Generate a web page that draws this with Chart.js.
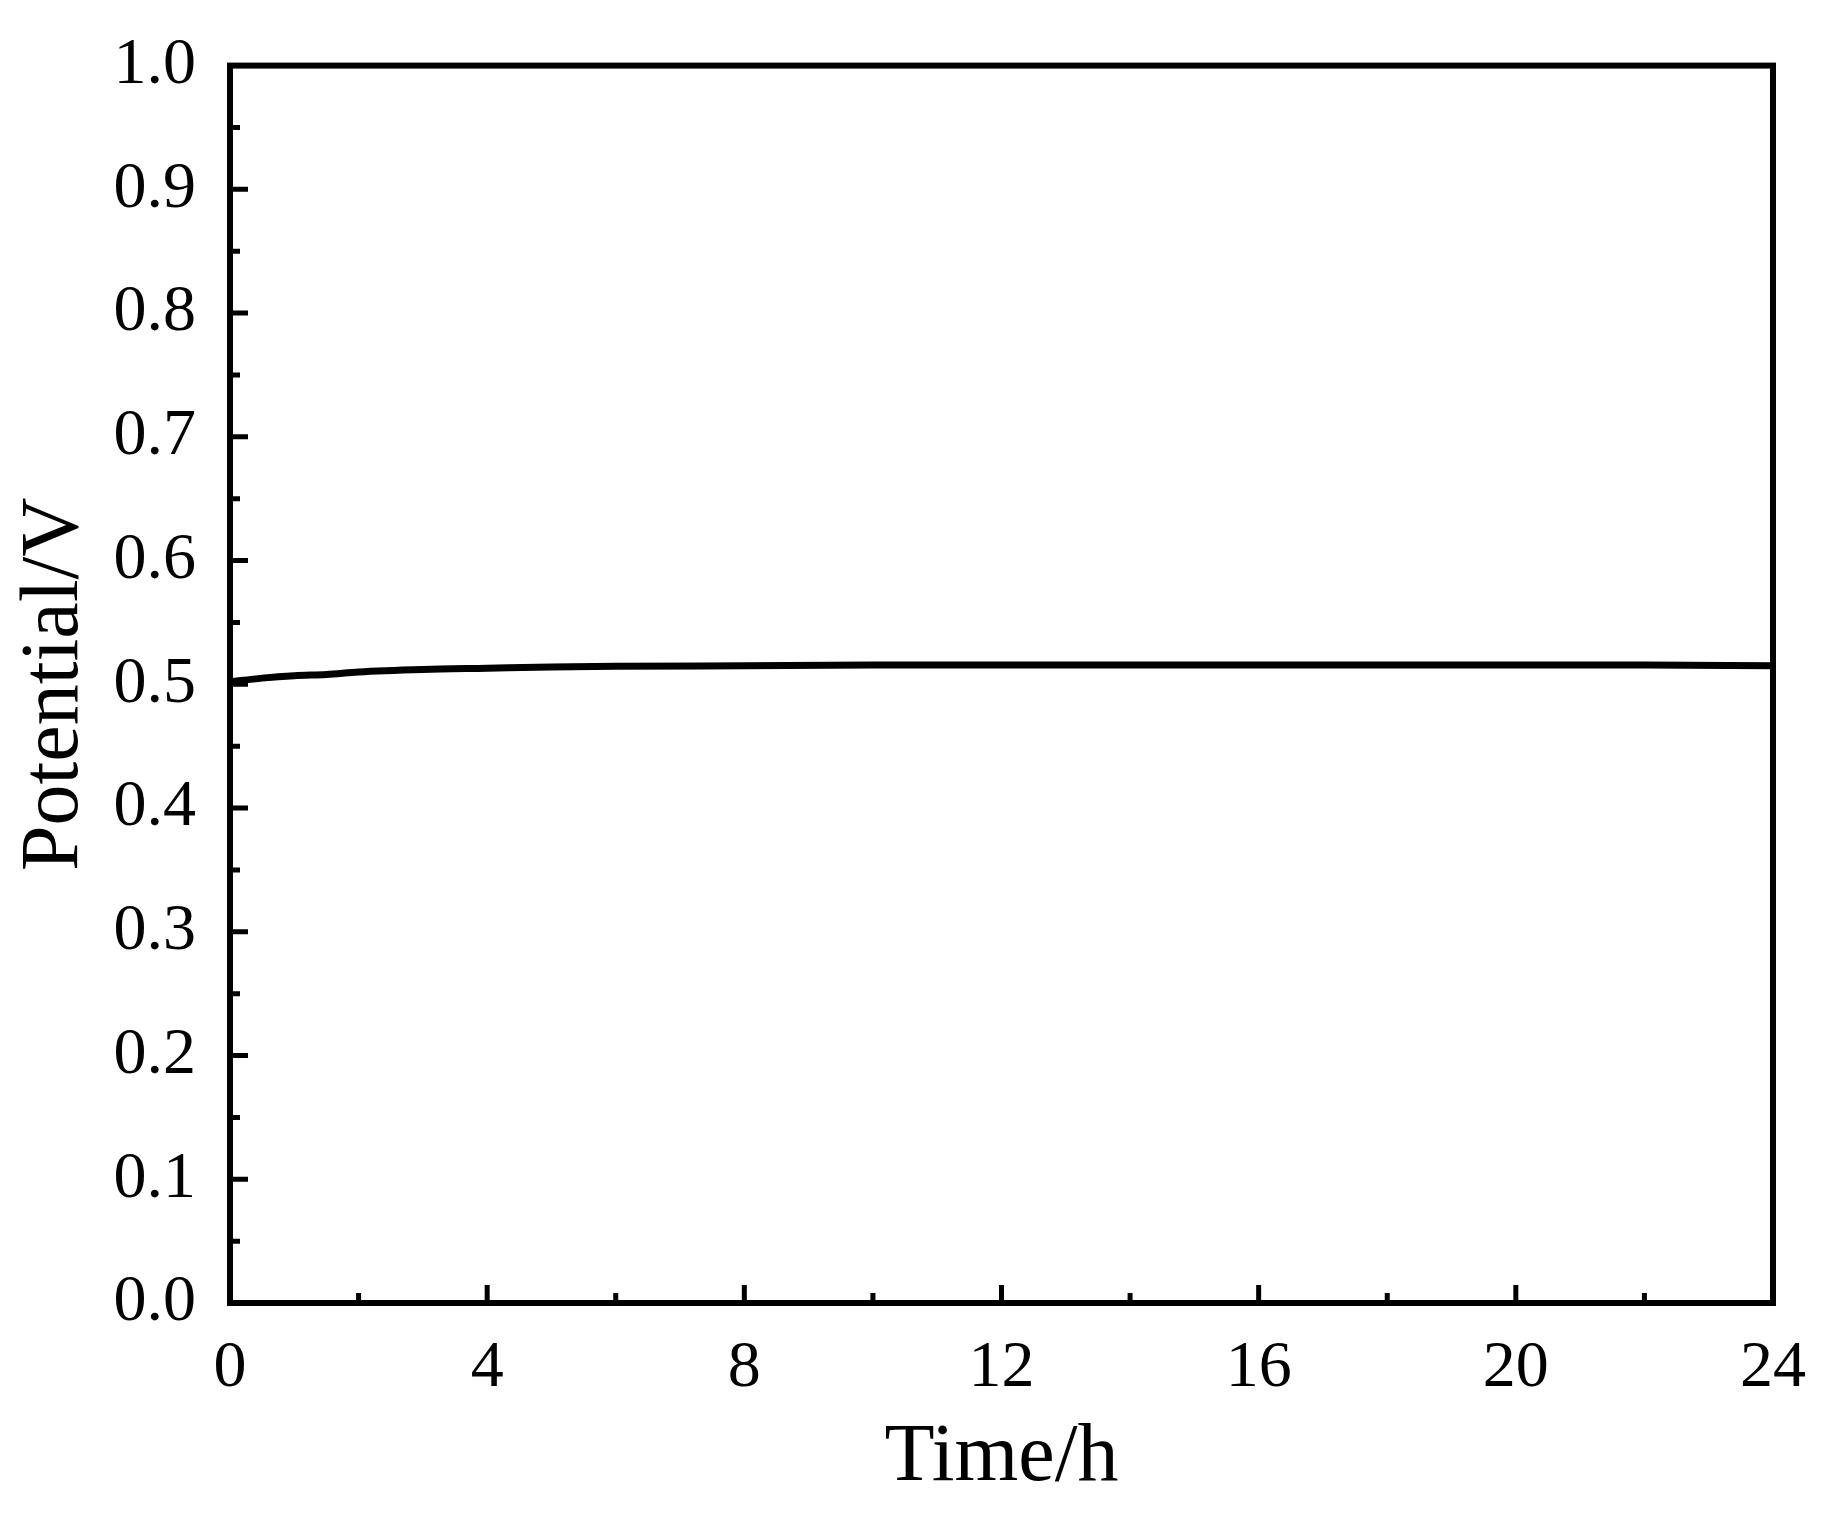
<!DOCTYPE html>
<html><head><meta charset="utf-8">
<script src="https://cdn.jsdelivr.net/npm/chart.js@4"></script>
<style>html,body{margin:0;background:#fff}#w{width:1828px;height:1525px}</style>
</head><body><div id="w"><canvas id="c"></canvas></div>
<script>
const timeH = [0,0.5,1,1.5,2,3,4,5,6,8,10,12,14,16,18,20,22,24];
const potentialV = [0.502,0.505,0.507,0.508,0.510,0.512,0.513,0.514,0.5145,0.515,0.5155,0.5155,0.5155,0.5155,0.5155,0.5155,0.5155,0.515];
const xTicks = [0,4,8,12,16,20,24];
const yTicks = [0,0.1,0.2,0.3,0.4,0.5,0.6,0.7,0.8,0.9,1.0];

const frame = {
  id:'frame',
  afterDraw(ch){
    const {ctx, chartArea:a, scales:{x,y}} = ch;
    ctx.save(); ctx.strokeStyle='#000'; ctx.lineWidth=6;
    ctx.strokeRect(a.left,a.top,a.right-a.left,a.bottom-a.top);
    ctx.lineWidth=5; ctx.beginPath();
    for(let v=0; v<=24; v+=2){const p=x.getPixelForValue(v); const L=v%4===0?18:10; ctx.moveTo(p,a.bottom); ctx.lineTo(p,a.bottom-L);}
    for(let i=0;i<=20;i++){const p=y.getPixelForValue(i*0.05); const L=i%2===0?18:10; ctx.moveTo(a.left,p); ctx.lineTo(a.left+L,p);}
    ctx.stroke(); ctx.restore();
  }
};
new Chart(document.getElementById('c'),{
  type:'line',
  data:{datasets:[{data:timeH.map((t,i)=>({x:t,y:potentialV[i]})),borderColor:'#000',borderWidth:7,pointRadius:0,cubicInterpolationMode:'monotone'}]},
  options:{responsive:true,maintainAspectRatio:false,animation:false,
    layout:{padding:{left:0,top:58,right:55,bottom:0}},
    plugins:{legend:{display:false},tooltip:{enabled:false}},
    scales:{
      x:{type:'linear',min:0,max:24,grid:{display:false},border:{display:false},
        afterBuildTicks(s){s.ticks=xTicks.map(v=>({value:v}));},
        afterFit(s){s.height=222;},
        ticks:{color:'#000',padding:18,font:{family:'Liberation Serif',size:66},maxRotation:0},
        title:{display:true,text:'Time/h',color:'#000',font:{family:'Liberation Serif',size:82},padding:{top:0,bottom:17}}},
      y:{min:0,max:1,grid:{display:false},border:{display:false},
        afterBuildTicks(s){s.ticks=yTicks.map(v=>({value:v}));},
        afterFit(s){s.width=230;},
        ticks:{color:'#000',padding:26,font:{family:'Liberation Serif',size:66},callback:v=>v.toFixed(1)},
        title:{display:true,text:'Potential/V',color:'#000',font:{family:'Liberation Serif',size:82},padding:{top:6,bottom:0}}}
    }},
  plugins:[frame]
});
</script></body></html>
